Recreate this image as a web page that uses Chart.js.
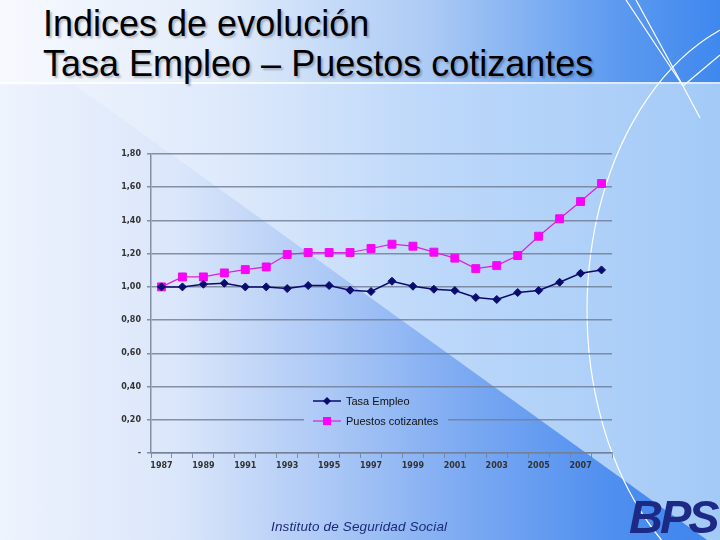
<!DOCTYPE html>
<html>
<head>
<meta charset="utf-8">
<script src="https://cdn.jsdelivr.net/npm/chart.js@4.4.0/dist/chart.umd.min.js"></script>
<style>
html, body { margin: 0; padding: 0; }
body {
    width: 720px; height: 540px; overflow: hidden; position: relative;
    font-family: "Liberation Sans", Arial, sans-serif;
    background: linear-gradient(to right, #f2f6fd 0%, #dfeafb 30%, #bdd8fa 60%, #a3caf7 100%);
}
#tri {
    position: absolute; left: 0; top: 0; width: 720px; height: 540px;
    clip-path: polygon(75px 85px, 707px 540px, 0 540px, 0 85px);
    background: linear-gradient(to right, #eef3fd 0%, #dae6fa 25%, #adc9f6 45%, #7ba9f2 65%, #4f8fef 85%, #3c84ee 100%);
}
#hdr {
    position: absolute; left: 0; top: 0; width: 720px; height: 82px;
    background: linear-gradient(to right, #f7f9fe 0%, #e3edfb 30%, #abcaf5 60%, #5e9bf0 85%, #3f88ee 100%);
    border-bottom: 2px solid rgba(255,255,255,0.8);
}
#title {
    position: absolute; left: 43px; top: 4px;
    font-size: 36px; line-height: 38px; color: #000;
    transform: scaleY(1.04); transform-origin: left top;
    text-shadow: 2px 2px 2px rgba(0,0,0,0.25);
}
#deco { position: absolute; left: 0; top: 0; }
#wrap { position: absolute; left: 0; top: 0; width: 720px; height: 540px; }
#foot {
    position: absolute; left: 271px; top: 519px;
    font-size: 13.5px; font-style: italic; color: #1b2a78; letter-spacing: 0.15px;
}
#logo {
    position: absolute; left: 629px; top: 489px;
    font-size: 47px; font-weight: bold; font-style: italic; color: #1c2a85;
    letter-spacing: -3px;
}
</style>
</head>
<body>
<div id="tri"></div>
<div id="hdr"></div>
<svg id="deco" width="720" height="540">
    <g stroke="#ffffff" stroke-width="1.2" fill="none">
        <ellipse cx="795" cy="310" rx="208" ry="300"/>
        <line x1="626" y1="0" x2="683" y2="86"/>
        <line x1="636" y1="0" x2="683" y2="86"/>
        <line x1="683" y1="86" x2="720" y2="55"/>
        <line x1="683" y1="86" x2="700" y2="118"/>
    </g>
</svg>
<div id="title">Indices de evolución<br>Tasa Empleo – Puestos cotizantes</div>
<div id="wrap"><canvas id="chart" width="720" height="540"></canvas></div>
<div id="foot">Instituto de Seguridad Social</div>
<div id="logo">BPS</div>
<script>
const years = ['1987', '1988', '1989', '1990', '1991', '1992', '1993', '1994', '1995', '1996', '1997',
               '1998', '1999', '2000', '2001', '2002', '2003', '2004', '2005', '2006', '2007', '2008'];
const tasaEmpleo = [1.00, 1.00, 1.016, 1.022, 1.00, 1.00, 0.99, 1.008, 1.008, 0.98, 0.972,
                    1.034, 1.004, 0.986, 0.978, 0.936, 0.924, 0.966, 0.978, 1.028, 1.082, 1.102];
const puestosCotizantes = [1.00, 1.06, 1.06, 1.084, 1.104, 1.12, 1.195, 1.207, 1.207, 1.207, 1.231,
                           1.257, 1.245, 1.209, 1.173, 1.11, 1.128, 1.189, 1.305, 1.41, 1.514, 1.622];
const seriesNames = ['Tasa Empleo', 'Puestos cotizantes'];

const gridColor = 'rgba(115,128,152,0.85)';
const tickFont = { family: 'DejaVu Sans', weight: 'bold', size: 8 };

// leyenda dentro del area del grafico, tapando la linea de 0,20
const insideLegend = {
    id: 'insideLegend',
    beforeDatasetsDraw(chart) {
        const ctx = chart.ctx;
        ctx.save();
        ctx.globalCompositeOperation = 'destination-out';
        ctx.fillRect(304, 393, 144, 36);
        ctx.restore();
    },
    afterDraw(chart) {
        const ctx = chart.ctx;
        ctx.save();
        chart.data.datasets.forEach((ds, i) => {
            const y = 401 + i * 20;
            ctx.strokeStyle = ds.borderColor;
            ctx.lineWidth = ds.borderWidth;
            ctx.beginPath();
            ctx.moveTo(313, y);
            ctx.lineTo(341, y);
            ctx.stroke();
            ctx.fillStyle = ds.pointBackgroundColor;
            ctx.beginPath();
            if (ds.pointStyle === 'rectRot') {
                ctx.moveTo(327, y - 4); ctx.lineTo(331, y); ctx.lineTo(327, y + 4); ctx.lineTo(323, y);
            } else {
                ctx.rect(323, y - 4, 8, 8);
            }
            ctx.fill();
            ctx.fillStyle = '#111';
            ctx.font = '11px "Liberation Sans", Arial, sans-serif';
            ctx.textBaseline = 'middle';
            ctx.fillText(ds.label, 346, y + 1);
        });
        ctx.restore();
    }
};

new Chart(document.getElementById('chart'), {
    type: 'line',
    data: {
        labels: years,
        datasets: [{
            label: seriesNames[0],
            data: tasaEmpleo,
            borderColor: '#0b0b6e',
            borderWidth: 1.5,
            pointStyle: 'rectRot',
            pointRadius: 4,
            pointBackgroundColor: '#0b0b6e',
            pointBorderColor: '#0b0b6e',
            pointBorderWidth: 1,
            tension: 0
        }, {
            label: seriesNames[1],
            data: puestosCotizantes,
            borderColor: '#dc20dc',
            borderWidth: 1.2,
            pointStyle: 'rect',
            pointRadius: 5.6,
            pointBackgroundColor: '#ff00ff',
            pointBorderColor: '#e810e8',
            pointBorderWidth: 1,
            tension: 0
        }]
    },
    options: {
        responsive: false,
        animation: false,
        layout: { padding: { left: 0, top: 154, right: 108, bottom: 0 } },
        plugins: { legend: { display: false }, tooltip: { enabled: false } },
        scales: {
            x: {
                offset: true,
                grid: { offset: true, drawOnChartArea: false, drawTicks: true, tickLength: 5, color: gridColor, lineWidth: 1 },
                border: { color: gridColor, width: 1.5 },
                ticks: {
                    autoSkip: false, maxRotation: 0, padding: 3,
                    font: tickFont, color: '#333',
                    callback: (v, i) => (i % 2 === 0 ? years[i] : '')
                },
                afterFit: s => { s.height = 87; }
            },
            y: {
                min: 0, max: 1.8,
                grid: { color: gridColor, lineWidth: 1.5, tickLength: 4 },
                border: { color: gridColor, width: 1.5 },
                ticks: {
                    stepSize: 0.2, padding: 6,
                    font: tickFont, color: '#333',
                    callback: v => (Math.abs(v) < 1e-6 ? '-' : v.toFixed(2).replace('.', ','))
                },
                afterFit: s => { s.width = 151; }
            }
        }
    },
    plugins: [insideLegend]
});
</script>
</body>
</html>
